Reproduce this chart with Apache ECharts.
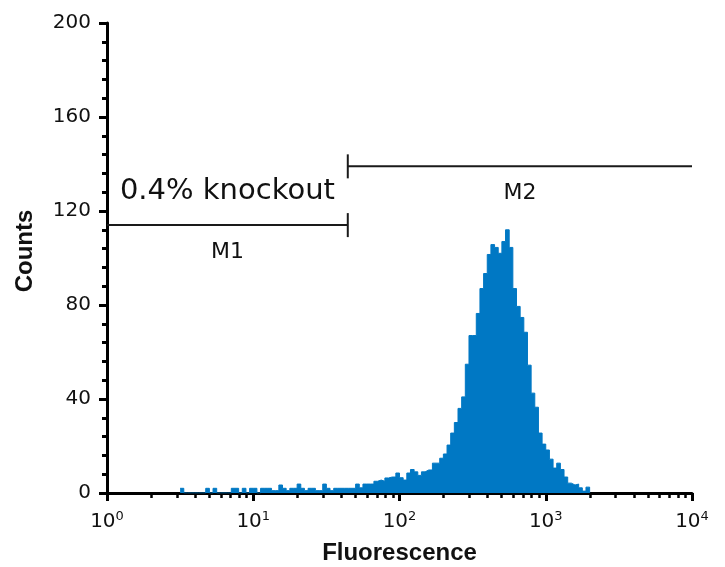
<!DOCTYPE html>
<html>
<head>
<meta charset="utf-8">
<script src="https://cdn.jsdelivr.net/npm/echarts@6/dist/echarts.min.js"></script>
<style>
html, body { margin: 0; padding: 0; background: #fff; }
#chart { width: 725px; height: 567px; }
</style>
</head>
<body>
<div id="chart"></div>
<script>
var binLog = 0.025;
var firstBin = 20;
var counts = [
    2, 0, 0, 0, 0, 0, 0, 2, 0, 2,
    0, 0, 0, 0, 2, 2, 0, 2, 0, 2,
    2, 0, 2, 2, 2, 1, 1, 3.4, 2, 1,
    2, 2, 3.8, 2, 1, 2, 2, 1, 1, 3.8,
    2, 1, 2, 2, 2, 2, 2, 2, 3.8, 2.2,
    3.8, 3.8, 3.8, 5, 5.5, 5, 6.4, 6.8, 6.8, 8.5,
    6.5, 5.5, 8.5, 10, 9, 7.5, 9, 9.8, 9.8, 12.7,
    12.7, 14.8, 16.6, 20.4, 25.5, 30, 36, 40.9, 54.8, 67,
    67, 76.4, 87, 93.4, 101.5, 105.7, 104.5, 102, 107, 112,
    104.5, 87, 79.4, 74.7, 68.4, 54.4, 42.5, 36.5, 25.5, 20.8,
    18.3, 14.4, 10.6, 12.7, 10, 6.8, 4.2, 3.4, 3.8, 2.2,
    0.8, 2.5
];

// gates
var gateNames = ['M1', 'M2'];
var gateFrom = [1, 44.3];
var gateTo = [44.3, 10000];
var gateLevel = [114, 139];
var gateCapAt = ['end', 'start'];
var gateNote = ['0.4% knockout', ''];

var histData = counts.map(function (c, j) {
    return [Math.pow(10, (firstBin + j) * binLog), c];
});
histData.push([Math.pow(10, (firstBin + counts.length) * binLog), 0]);

var chart = echarts.init(document.getElementById('chart'));
var option = {
    backgroundColor: '#fff',
    animation: false,
    grid: { left: 107, right: 33, top: 23, bottom: 74, containLabel: false, outerBoundsMode: 'none' },
    xAxis: {
        type: 'log',
        logBase: 10,
        min: 1,
        max: 10000,
        name: 'Fluorescence',
        nameLocation: 'middle',
        nameGap: 48,
        nameTextStyle: { fontFamily: 'Liberation Sans', fontWeight: 'bold', fontSize: 24, color: '#111' },
        axisLine: { lineStyle: { color: '#000', width: 3 } },
        axisTick: { length: 8, lineStyle: { color: '#000', width: 3 } },
        minorTick: { show: true, splitNumber: 9, length: 5, lineStyle: { color: '#000', width: 2.5 } },
        splitLine: { show: false },
        axisLabel: {
            margin: 17,
            formatter: function (v) {
                return '{b|10}{s|' + Math.round(Math.log10(v)) + '}';
            },
            rich: {
                b: { fontFamily: 'DejaVu Sans', fontSize: 20, color: '#111', lineHeight: 24 },
                s: { fontFamily: 'DejaVu Sans', fontSize: 13, color: '#111', lineHeight: 24, verticalAlign: 'top', padding: [0, 0, 10, 0] }
            }
        }
    },
    yAxis: {
        type: 'value',
        min: 0,
        max: 200,
        interval: 40,
        name: 'Counts',
        nameLocation: 'middle',
        nameGap: 70,
        nameTextStyle: { fontFamily: 'Liberation Sans', fontWeight: 'bold', fontSize: 24, color: '#111', padding: [0, 0, 0, 14] },
        axisLine: { show: true, lineStyle: { color: '#000', width: 3 } },
        axisTick: { show: true, length: 8, lineStyle: { color: '#000', width: 3 } },
        minorTick: { show: true, splitNumber: 5, length: 5, lineStyle: { color: '#000', width: 3 } },
        splitLine: { show: false },
        axisLabel: { margin: 16, fontFamily: 'DejaVu Sans', fontSize: 20, color: '#111' }
    },
    series: [
        {
            type: 'line',
            step: 'end',
            symbol: 'none',
            data: histData,
            lineStyle: { color: '#0078c4', width: 1 },
            areaStyle: { color: '#0078c4', opacity: 1 },
            z: 1
        },
        {
            type: 'custom',
            coordinateSystem: 'cartesian2d',
            silent: true,
            data: gateNames.map(function (n, i) {
                return [gateFrom[i], gateTo[i], gateLevel[i], i];
            }),
            encode: { x: [0, 1], y: 2 },
            renderItem: function (params, api) {
                var i = api.value(3);
                var p0 = api.coord([api.value(0), api.value(2)]);
                var p1 = api.coord([api.value(1), api.value(2)]);
                var capX = gateCapAt[i] === 'end' ? p1[0] : p0[0];
                var midX = (p0[0] + p1[0]) / 2;
                var children = [
                    { type: 'line', shape: { x1: p0[0], y1: p0[1], x2: p1[0], y2: p1[1] }, style: { stroke: '#1a1a1a', lineWidth: 2 } },
                    { type: 'line', shape: { x1: capX, y1: p0[1] - 12, x2: capX, y2: p0[1] + 12 }, style: { stroke: '#1a1a1a', lineWidth: 2 } },
                    { type: 'text', x: midX, y: p0[1] + 27, style: { text: gateNames[i], fill: '#111', font: '22px "DejaVu Sans"', align: 'center', verticalAlign: 'middle' } }
                ];
                if (gateNote[i]) {
                    children.push({ type: 'text', x: midX, y: p0[1] - 34, style: { text: gateNote[i], fill: '#111', font: '29px "DejaVu Sans"', align: 'center', verticalAlign: 'middle' } });
                }
                return { type: 'group', children: children };
            },
            z: 3
        }
    ]
};
chart.setOption(option);
</script>
</body>
</html>
